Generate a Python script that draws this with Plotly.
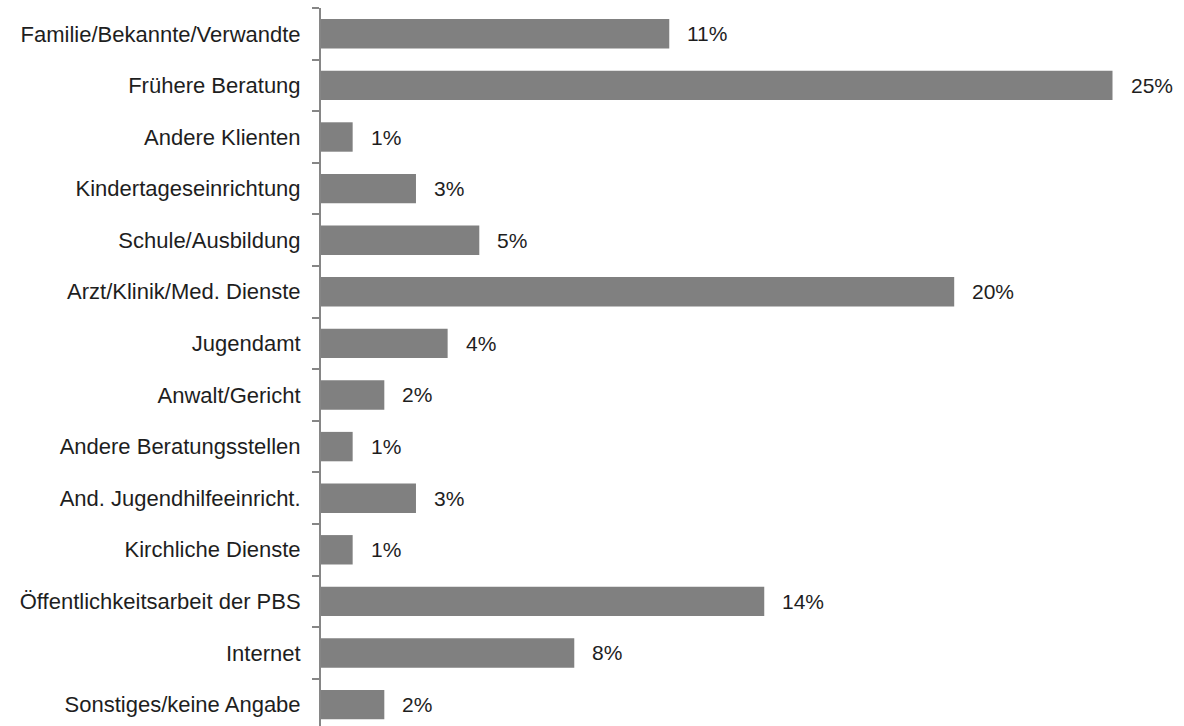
import plotly.graph_objects as go

# Referral sources (top to bottom) and their shares in percent
categories = [
    "Familie/Bekannte/Verwandte",
    "Frühere Beratung",
    "Andere Klienten",
    "Kindertageseinrichtung",
    "Schule/Ausbildung",
    "Arzt/Klinik/Med. Dienste",
    "Jugendamt",
    "Anwalt/Gericht",
    "Andere Beratungsstellen",
    "And. Jugendhilfeeinricht.",
    "Kirchliche Dienste",
    "Öffentlichkeitsarbeit der PBS",
    "Internet",
    "Sonstiges/keine Angabe",
]
shares = [11, 25, 1, 3, 5, 20, 4, 2, 1, 3, 1, 14, 8, 2]
value_labels = [f"{v}%" for v in shares]

FONT = "Liberation Sans, Arial, sans-serif"
BAR_COLOR = "#808080"
AXIS_COLOR = "#868686"
TEXT_COLOR = "#1e1e1e"

fig = go.Figure()
fig.add_trace(
    go.Bar(
        x=shares,
        y=categories,
        orientation="h",
        width=0.57,
        marker=dict(color=BAR_COLOR, line=dict(width=0)),
        hoverinfo="skip",
    )
)

# value labels to the right of each bar
for cat, v, lab in zip(categories, shares, value_labels):
    fig.add_annotation(
        x=v, y=cat, text=lab, showarrow=False,
        xanchor="left", yanchor="middle", xshift=16,
        font=dict(family=FONT, size=21, color=TEXT_COLOR),
    )

fig.update_layout(
    width=1184,
    height=726,
    margin=dict(l=321, r=5, t=8, b=0),
    paper_bgcolor="white",
    plot_bgcolor="white",
    showlegend=False,
    xaxis=dict(range=[0, 27.1], visible=False, showgrid=False, zeroline=False),
    yaxis=dict(
        type="category",
        categoryorder="array",
        categoryarray=categories,
        range=[13.415, -0.5],
        showline=True,
        linecolor=AXIS_COLOR,
        linewidth=2,
        ticks="outside",
        tickson="boundaries",
        ticklen=7,
        tickwidth=2,
        tickcolor=AXIS_COLOR,
        ticklabelstandoff=14,
        showgrid=False,
        zeroline=False,
        tickfont=dict(family=FONT, size=22, color=TEXT_COLOR),
    ),
)

fig.write_html("out.html")
